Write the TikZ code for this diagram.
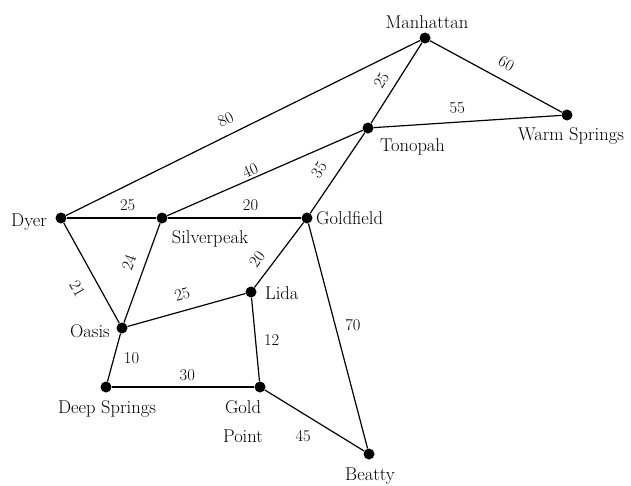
\documentclass[tikz,border=0pt]{standalone}
\begin{document}
\begin{tikzpicture}[x=1pt,y=-1pt,
  vertex/.style={circle,fill=black,inner sep=0pt,minimum size=11pt},
  town/.style={font=\fontsize{18.5}{22}\selectfont,inner sep=0pt},
  wt/.style={font=\fontsize{16.5}{20}\selectfont},
  road/.style={line width=1.2pt}]
\useasboundingbox (0,0) rectangle (631,485);
% vertices
\node[vertex] (man) at (425,38) {};
\node[vertex] (warm) at (567,115) {};
\node[vertex] (ton) at (368,128) {};
\node[vertex] (dyer) at (61,218) {};
\node[vertex] (silv) at (162,218) {};
\node[vertex] (gold) at (307,218) {};
\node[vertex] (lida) at (251,292) {};
\node[vertex] (oasis) at (122,328) {};
\node[vertex] (deep) at (106,387) {};
\node[vertex] (gpt) at (260,387) {};
\node[vertex] (beat) at (369,454) {};
% town names
\node[town,anchor=base] (manT) at (427,28.5) {Manhattan};
\node[town,anchor=base] (warmT) at (571,140) {Warm Springs};
\node[town,anchor=base] (tonT) at (412.5,151) {Tonopah};
\node[town,anchor=base] (dyerT) at (29,226) {Dyer};
\node[town,anchor=base] (silvT) at (210,243.5) {Silverpeak};
\node[town,anchor=base west] (goldT) at (316,224.5) {Goldfield};
\node[town,anchor=base west] (lidaT) at (265,299.5) {Lida};
\node[town,anchor=base east] (oasisT) at (110,337) {Oasis};
\node[town,anchor=base] (deepT) at (107,413) {Deep Springs};
\node[town,anchor=base] (gptT) at (243,413) {Gold};
\node[town,anchor=base] (gptT2) at (243,442) {Point};
\node[town,anchor=base] (beatT) at (370,480) {Beatty};
% roads
\draw[road] (dyer) -- node[wt,sloped,above,inner sep=9pt,pos=.47] (w1) {80} (man);
\draw[road] (silv) -- node[wt,sloped,above,inner sep=1.5pt,pos=.44] (w2) {40} (ton);
\draw[road] (man) -- node[wt,sloped,above,inner sep=8pt,pos=.56] (w3) {25} (ton);
\draw[road] (ton) -- node[wt,sloped,above,inner sep=11pt,pos=.58] (w4) {35} (gold);
\draw[road] (man) -- node[wt,sloped,above,inner sep=10pt,pos=.52] (w5) {60} (warm);
\draw[road] (ton) -- node[wt,sloped,above,inner sep=8pt,pos=.45] (w6) {55} (warm);
\draw[road] (dyer) -- node[wt,above,inner sep=7pt,pos=.68] (w7) {25} (silv);
\draw[road] (silv) -- node[wt,above,inner sep=7pt,pos=.62] (w8) {20} (gold);
\draw[road] (gold) -- node[wt,sloped,above,inner sep=9pt,pos=.7] (w9) {20} (lida);
\draw[road] (oasis) -- node[wt,sloped,above,inner sep=10pt,pos=.5] (w10) {25} (lida);
\draw[road] (dyer) -- node[wt,sloped,below,inner sep=14pt,pos=.56] (w11) {21} (oasis);
\draw[road] (silv) -- node[wt,sloped,above,inner sep=10pt,pos=.45] (w12) {24} (oasis);
\draw[road] (oasis) -- node[wt,right,inner sep=9.5pt,pos=.51] (w13) {10} (deep);
\draw[road] (deep) -- node[wt,above,inner sep=6pt,pos=.53] (w14) {30} (gpt);
\draw[road] (lida) -- node[wt,right,inner sep=8pt,pos=.505] (w15) {12} (gpt);
\draw[road] (gold) -- node[wt,right,inner sep=9.5pt,pos=.453] (w16) {70} (beat);
\draw[road] (gpt) -- node[wt,below,inner sep=16pt,pos=.385] (w17) {45} (beat);
\end{tikzpicture}
\end{document}
